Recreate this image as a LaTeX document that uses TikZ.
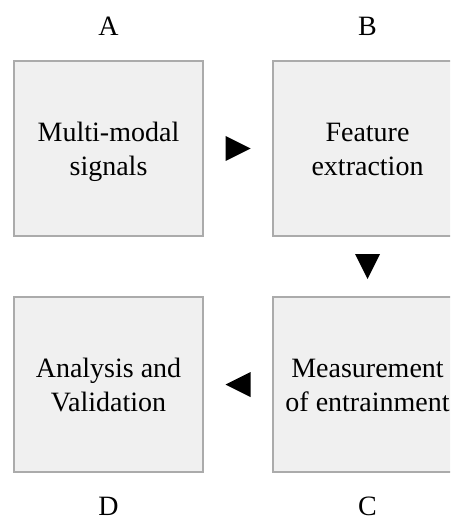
\documentclass[tikz,border=0pt]{standalone}
\usepackage{fontspec}
\setmainfont{Liberation Serif}
\definecolor{boxgray}{HTML}{ABABAB}
\definecolor{boxfill}{HTML}{F0F0F0}
\begin{document}
\begin{tikzpicture}[x=1pt,y=-1pt,
  box/.style={draw=boxgray, fill=boxfill, line width=2pt, minimum width=189pt,
    minimum height=175pt, inner sep=0pt},
  txt/.style={inner sep=0pt, align=center, font=\fontsize{28}{33.4}\selectfont},
  lab/.style={font=\fontsize{28}{33.4}\selectfont, inner sep=0pt},
  tri/.style={fill=black}]
\useasboundingbox (0,0) rectangle (450,518);
\clip (0,0) rectangle (450,518);
\node[box] (A) at (108.5,148.5) {};
\node[box] (B) at (367.5,148.5) {};
\node[box] (C) at (367.5,384.5) {};
\node[box] (D) at (108.5,384.5) {};
\node[txt] (At) at ([yshift=-3.5pt]A.center) {Multi-modal\vphantom{d}\\signals\vphantom{g}};
\node[txt] (Bt) at ([yshift=-3.5pt]B.center) {Feature\vphantom{d}\\extraction\vphantom{g}};
\node[txt] (Ct) at ([yshift=-3.5pt]C.center) {Measurement\vphantom{d}\\of entrainment\vphantom{g}};
\node[txt] (Dt) at ([yshift=-3.5pt]D.center) {Analysis and\vphantom{d}\\Validation\vphantom{g}};
\node[lab] (la) at (108.5,26.7) {A};
\node[lab] (lb) at (367.5,26.7) {B};
\node[lab] (lc) at (367.5,506.5) {C};
\node[lab] (ld) at (108.5,506.5) {D};
\path (A) -- (B) coordinate[midway] (ab);
\path (B) -- (C) coordinate[midway] (bc);
\path (C) -- (D) coordinate[midway] (cd);
\fill[tri] ([shift={(-12.5,-12.5)}]ab) -- ([shift={(12.5,0)}]ab) -- ([shift={(-12.5,12.5)}]ab) -- cycle;
\fill[tri] ([shift={(-12.5,-12.5)}]bc) -- ([shift={(12.5,-12.5)}]bc) -- ([shift={(0,12.5)}]bc) -- cycle;
\fill[tri] ([shift={(12.5,-12.5)}]cd) -- ([shift={(-12.5,0)}]cd) -- ([shift={(12.5,12.5)}]cd) -- cycle;
\end{tikzpicture}
\end{document}
